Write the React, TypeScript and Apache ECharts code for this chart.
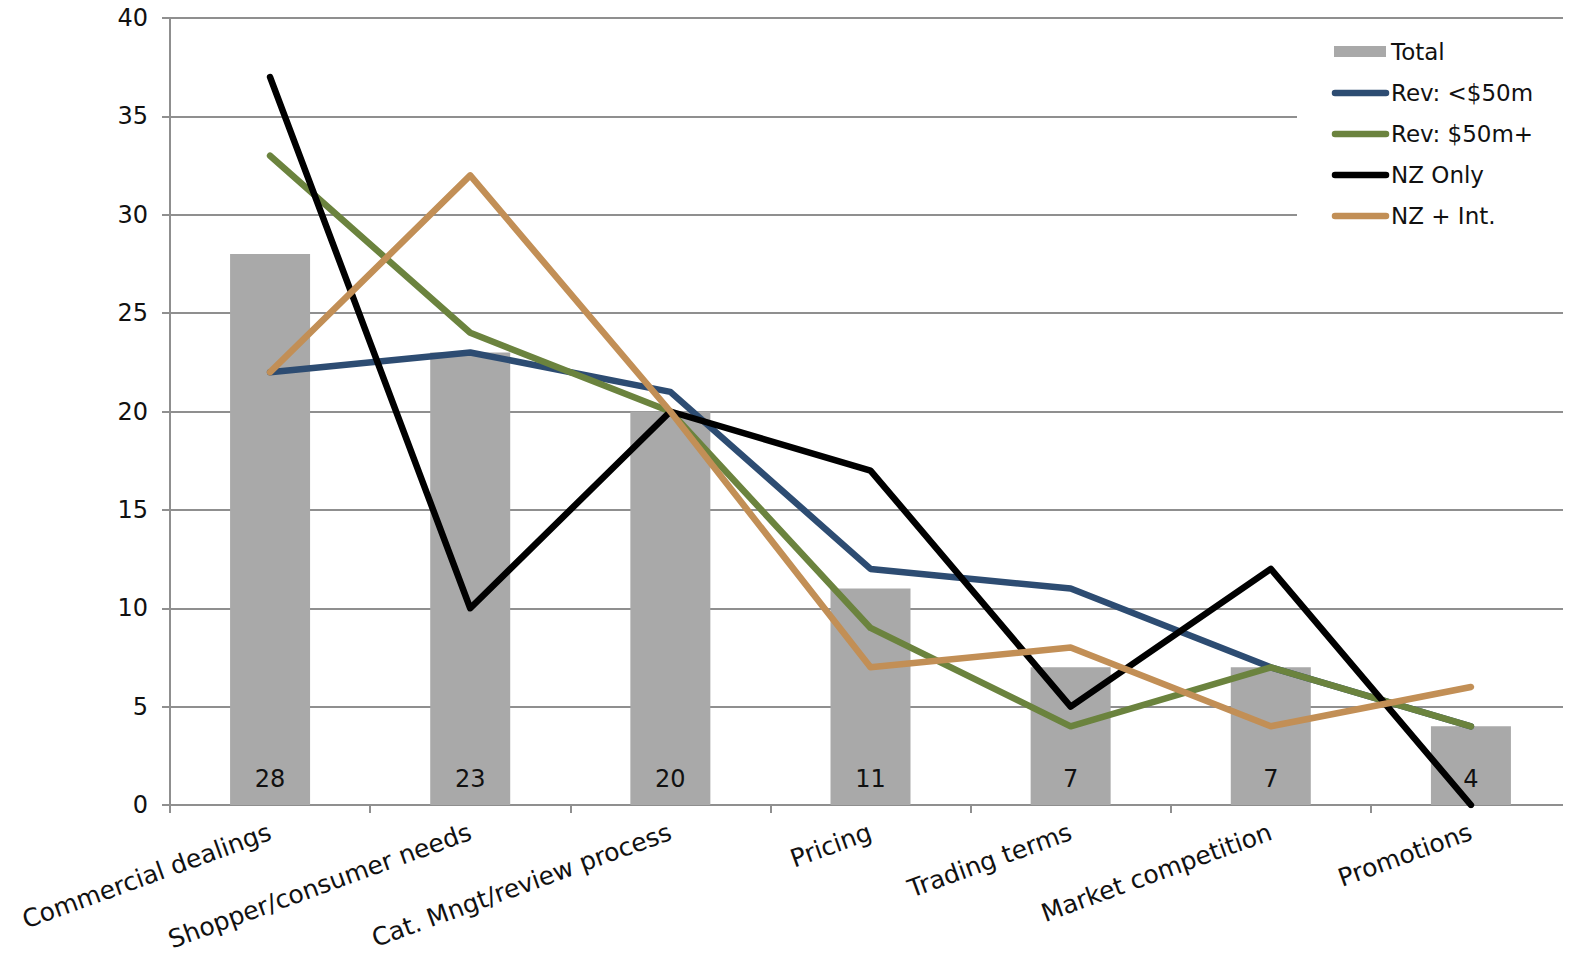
import React, { useEffect, useRef } from "react";
import * as echarts from "echarts";

const categories = [
  "Commercial dealings",
  "Shopper/consumer needs",
  "Cat. Mngt/review process",
  "Pricing",
  "Trading terms",
  "Market competition",
  "Promotions",
];

const totalValues = [28, 23, 20, 11, 7, 7, 4];
const revUnder50m = [22, 23, 21, 12, 11, 7, 4];
const rev50mPlus = [33, 24, 20, 9, 4, 7, 4];
const nzOnly = [37, 10, 20, 17, 5, 12, 0];
const nzPlusInt = [22, 32, 20, 7, 8, 4, 6];

const legendNames = ["Total", "Rev: <$50m", "Rev: $50m+", "NZ Only", "NZ + Int."];
const seriesColors = ["#a9a9a9", "#2d4c72", "#6b833e", "#000000", "#c28f56"];

const FONT = "'Century Gothic', 'DejaVu Sans', sans-serif";
const AXIS_GREY = "#8f8f8f";
const TEXT = "#111111";
const LEGEND_Z = 100;

const lineSeries = (idx: number, data: number[]) => ({
  name: legendNames[idx],
  type: "line",
  data,
  symbol: "none",
  showSymbol: false,
  z: 2 + idx,
  lineStyle: { color: seriesColors[idx], width: 6.5, cap: "round", join: "round" },
  itemStyle: { color: seriesColors[idx] },
});

// Legend drawn as graphic elements on a white panel: a swatch for the bars,
// thick rounded strokes for the lines.
const buildLegend = () => {
  const x0 = 1333;
  const y0 = 52;
  const step = 41;
  const elements: any[] = [
    {
      type: "rect",
      z: LEGEND_Z,
      shape: { x: 1297, y: 28, width: 274, height: 214 },
      style: { fill: "#ffffff" },
    },
  ];
  legendNames.forEach((name, i) => {
    const cy = y0 + i * step;
    if (i === 0) {
      elements.push({
        type: "rect",
        z: LEGEND_Z + 1,
        shape: { x: x0 + 1, y: cy - 6, width: 52, height: 11 },
        style: { fill: seriesColors[0] },
      });
    } else {
      elements.push({
        type: "line",
        z: LEGEND_Z + 1,
        shape: { x1: x0 + 2, y1: cy, x2: x0 + 53, y2: cy },
        style: { stroke: seriesColors[i], lineWidth: 6.5, lineCap: "round" },
      });
    }
    elements.push({
      type: "text",
      z: LEGEND_Z + 1,
      x: x0 + 58,
      y: cy,
      style: {
        text: name,
        font: `23px ${FONT}`,
        fill: TEXT,
        verticalAlign: "middle",
        align: "left",
      },
    });
  });
  return { z: LEGEND_Z, elements };
};

export default function App() {
  const ref = useRef<HTMLDivElement>(null);

  useEffect(() => {
    if (!ref.current) return;
    const chart = echarts.init(ref.current, null, { renderer: "svg" });
    chart.setOption({
      animation: false,
      backgroundColor: "#ffffff",
      grid: { left: 170, right: 0, top: 18, bottom: 171, containLabel: false },
      xAxis: {
        type: "category",
        data: categories,
        axisLine: { lineStyle: { color: AXIS_GREY, width: 2 } },
        axisTick: { show: true, length: 8, lineStyle: { color: AXIS_GREY, width: 2 } },
        axisLabel: {
          rotate: 20,
          margin: 26,
          interval: 0,
          fontFamily: FONT,
          fontSize: 25,
          color: TEXT,
        },
      },
      yAxis: {
        type: "value",
        min: 0,
        max: 40,
        interval: 5,
        axisLine: { show: true, lineStyle: { color: AXIS_GREY, width: 2 } },
        axisTick: { show: true, length: 8, lineStyle: { color: AXIS_GREY, width: 2 } },
        splitLine: { lineStyle: { color: AXIS_GREY, width: 2 } },
        axisLabel: { margin: 22, fontFamily: FONT, fontSize: 24, color: TEXT },
      },
      graphic: buildLegend(),
      series: [
        {
          name: legendNames[0],
          type: "bar",
          data: totalValues,
          barWidth: 80,
          itemStyle: { color: seriesColors[0] },
          label: {
            show: true,
            position: "insideBottom",
            distance: 14,
            fontFamily: FONT,
            fontSize: 24,
            color: TEXT,
          },
          z: 2,
        },
        lineSeries(1, revUnder50m),
        lineSeries(2, rev50mPlus),
        lineSeries(3, nzOnly),
        lineSeries(4, nzPlusInt),
      ],
    });
    return () => chart.dispose();
  }, []);

  return <div ref={ref} style={{ width: 1571, height: 976, margin: -8 }} />;
}
